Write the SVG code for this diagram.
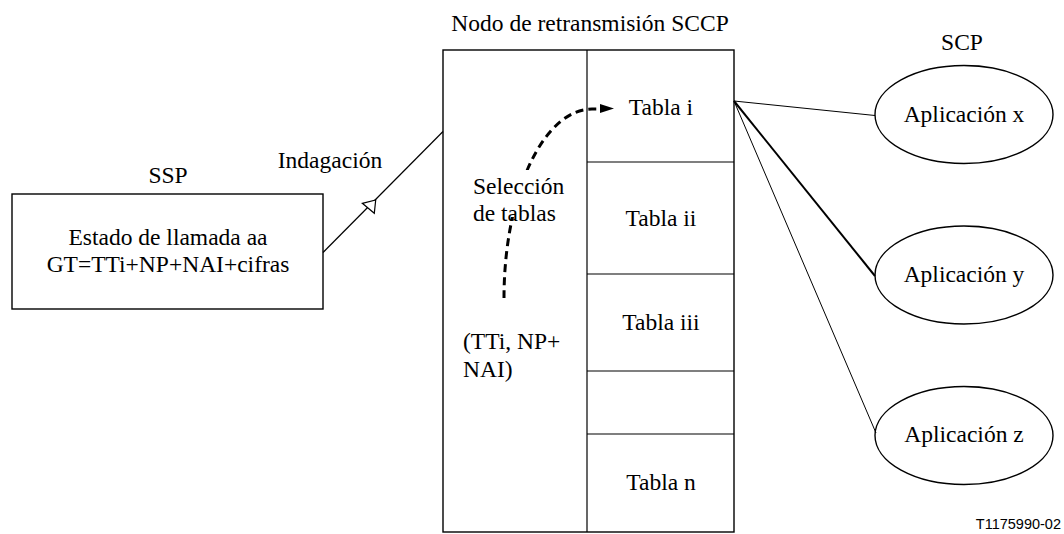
<svg xmlns="http://www.w3.org/2000/svg" width="1064" height="534" viewBox="0 0 1064 534">
<style>
.t{font-family:"Liberation Serif","Times New Roman",serif;font-size:23.5px;fill:#000}
.m{text-anchor:middle}
.box{fill:#fff;stroke:#000;stroke-width:1.4}
.ln{fill:none;stroke:#000;stroke-width:1.2}
</style>
<rect width="1064" height="534" fill="#fff"/>
<g id="ssp">
<text class="t m" x="168" y="182.5">SSP</text>
<rect class="box" x="12" y="194" width="311" height="115"/>
<text class="t m" x="168" y="245">Estado de llamada aa</text>
<text class="t m" x="168" y="272">GT=TTi+NP+NAI+cifras</text>
</g>
<g id="sccp">
<text class="t m" x="590" y="30.5">Nodo de retransmisión SCCP</text>
<rect class="box" x="443" y="50" width="291" height="482"/>
<line class="ln" x1="587" y1="50" x2="587" y2="532"/>
<line class="ln" x1="587" y1="162" x2="734" y2="162"/>
<line class="ln" x1="587" y1="274" x2="734" y2="274"/>
<line class="ln" x1="587" y1="371" x2="734" y2="371"/>
<line class="ln" x1="587" y1="434" x2="734" y2="434"/>
<text class="t m" x="661" y="115">Tabla i</text>
<text class="t m" x="661" y="225.5">Tabla ii</text>
<text class="t m" x="661" y="330">Tabla iii</text>
<text class="t m" x="661" y="490">Tabla n</text>
</g>
<g id="scp">
<text class="t m" x="962" y="50">SCP</text>
<g id="app-x"><ellipse class="box" cx="964" cy="114.5" rx="89" ry="49"/><text class="t m" x="964" y="121.5">Aplicación x</text></g>
<g id="app-y"><ellipse class="box" cx="964" cy="275" rx="89" ry="49"/><text class="t m" x="964" y="282">Aplicación y</text></g>
<g id="app-z"><ellipse class="box" cx="964" cy="435.5" rx="89" ry="49"/><text class="t m" x="964" y="441.5">Aplicación z</text></g>
</g>
<g id="connectors">
<line class="ln" x1="323" y1="252.5" x2="443" y2="131.5"/>
<polygon points="362.3,203.3 375.7,200 374.3,213.3" fill="#fff" stroke="#000" stroke-width="1.2"/>
<text class="t m" x="330" y="167.5">Indagación</text>
<line x1="734" y1="101" x2="875" y2="115.5" stroke="#000" stroke-width="1"/>
<line x1="734" y1="101" x2="875" y2="276" stroke="#000" stroke-width="2"/>
<line x1="734" y1="101" x2="876" y2="433" stroke="#000" stroke-width="1"/>
<path d="M504,298 A88,189 0 0 1 592,109 L600,109" fill="none" stroke="#000" stroke-width="3" stroke-dasharray="8,5"/>
<rect x="503" y="170" width="36" height="47" fill="#fff"/>
<polygon points="600,104 614,108.5 600,113" fill="#000"/>
<text class="t" x="473" y="193.5">Selección</text>
<text class="t" x="473" y="220.5">de tablas</text>
</g>
<text class="t" x="463" y="348.5">(TTi, NP+</text>
<text class="t" x="463" y="376.5">NAI)</text>
<text x="1061" y="529" text-anchor="end" style="font-family:'Liberation Sans',Arial,sans-serif;font-size:14.5px">T1175990-02</text>
</svg>
